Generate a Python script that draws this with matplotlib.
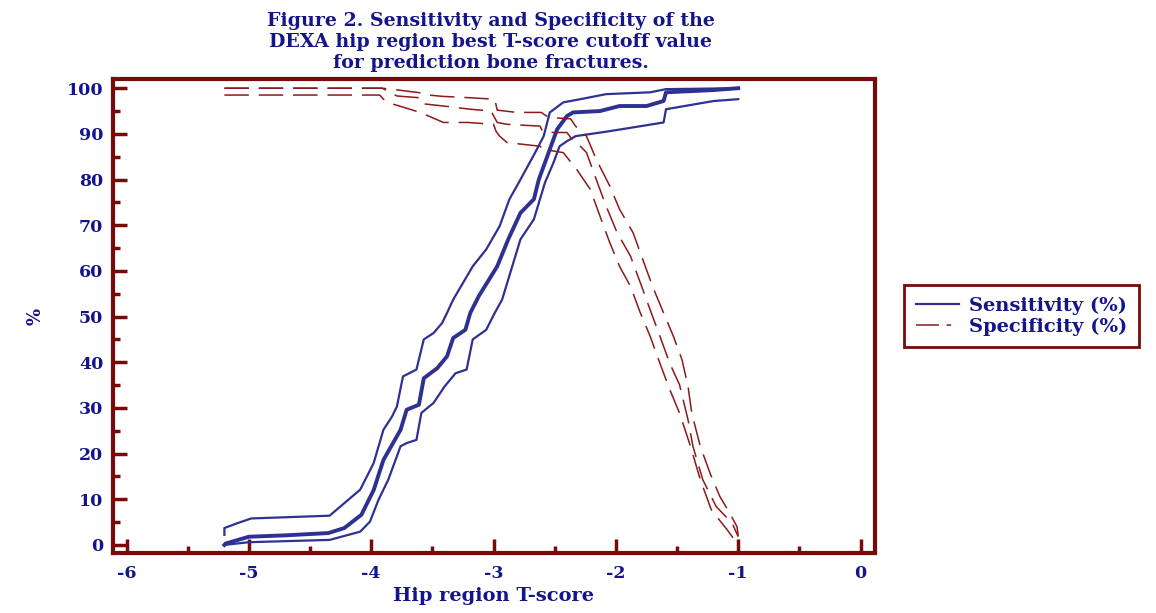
import numpy as np
import matplotlib
matplotlib.use('Agg')
from matplotlib import pyplot as plt
from matplotlib.ticker import MultipleLocator

# Sensitivity (%) - estimate with lower / upper bounds
sens_x = [-5.2, -5.19, -5.0, -4.7, -4.35, -4.22, -4.08, -3.98, -3.90, -3.86, -3.76, -3.71,
          -3.61, -3.57, -3.46, -3.38, -3.33, -3.23, -3.19, -3.12, -2.97, -2.88, -2.78, -2.67,
          -2.63, -2.57, -2.52, -2.48, -2.40, -2.35, -2.13, -1.97, -1.75, -1.61, -1.59, -1.20, -1.0]
sens_y = [0, 0.3, 1.8, 2.1, 2.6, 3.7, 6.6, 12, 18.6, 20.5, 25.2, 29.6,
          30.7, 36.5, 38.7, 41.3, 45.3, 47.1, 50.8, 54.5, 61, 66.9, 72.7, 75.7,
          80, 84.4, 88.1, 91, 93.9, 94.7, 95, 96.1, 96.1, 97.2, 99.1, 99.6, 100]

sens_hi_x = [-5.2, -5.2, -5.09, -4.98, -4.34, -4.09, -3.98, -3.90, -3.83, -3.79, -3.74, -3.63,
             -3.57, -3.49, -3.42, -3.38, -3.33, -3.17, -3.06, -2.95, -2.87, -2.78, -2.66, -2.59,
             -2.54, -2.43, -2.29, -2.08, -1.72, -1.59, -1.0]
sens_hi_y = [2.2, 3.7, 4.8, 5.8, 6.4, 12.1, 17.9, 25.2, 28.1, 30.3, 36.9, 38.4,
             45, 46.4, 48.6, 50.8, 53.7, 61, 64.7, 69.8, 75.7, 80, 85.9, 89.5,
             94.7, 96.9, 97.6, 98.7, 99.1, 99.8, 100]

sens_lo_x = [-5.2, -5.0, -4.34, -4.09, -4.01, -3.94, -3.86, -3.76, -3.71, -3.63, -3.59, -3.49,
             -3.40, -3.31, -3.22, -3.17, -3.06, -2.99, -2.93, -2.78, -2.67, -2.58, -2.51, -2.46,
             -2.40, -2.33, -2.05, -1.61, -1.59, -1.20, -1.0]
sens_lo_y = [0, 0.6, 1.1, 2.9, 5.1, 9.9, 14.3, 21.6, 22.3, 23, 28.9, 31.1,
             34.7, 37.6, 38.4, 45, 47.1, 50.8, 53.7, 66.9, 71.3, 79.3, 83.7, 87.3,
             88.4, 89.5, 90.6, 92.5, 95.4, 97.2, 97.6]

# Specificity (%) - estimate with lower / upper bounds
spec_x = [-5.2, -3.91, -3.79, -3.60, -3.58, -3.41, -3.19, -3.02, -2.97, -2.89, -2.76, -2.62,
          -2.60, -2.51, -2.40, -2.37, -2.33, -2.24, -2.16, -2.08, -1.99, -1.88, -1.80, -1.72,
          -1.64, -1.56, -1.48, -1.41, -1.37, -1.29, -1.18, -1.05, -1.0]
spec_y = [100, 100, 98.3, 97.9, 96.6, 96.1, 95.4, 95.0, 92.5, 92.1, 91.9, 91.7,
          90.6, 90.3, 90.3, 89.2, 88.4, 85.9, 80, 74.2, 68.4, 63.2, 57.4, 51.5,
          45.7, 39.8, 35.1, 27.4, 21.6, 14.3, 8.4, 4.8, 1.8]

spec_hi_x = [-5.2, -3.91, -3.78, -3.60, -3.53, -3.41, -3.25, -3.06, -2.99, -2.97, -2.81, -2.61,
             -2.55, -2.37, -2.33, -2.24, -2.16, -2.05, -1.97, -1.86, -1.78, -1.70, -1.61, -1.53,
             -1.46, -1.41, -1.38, -1.31, -1.23, -1.15, -1.07, -1.01, -1.0]
spec_hi_y = [100, 100, 99.6, 99.0, 98.5, 98.2, 98.0, 97.7, 97.6, 95.2, 94.7, 94.7,
             93.6, 93.3, 91.7, 89.5, 84.4, 78.6, 73.5, 68.4, 62.5, 56.6, 50.8, 45.7,
             40.6, 34.7, 28.9, 21.6, 15.7, 10.6, 7, 4, 2]

spec_lo_x = [-5.2, -3.93, -3.90, -3.82, -3.66, -3.60, -3.47, -3.41, -3.21, -3.00, -2.98, -2.95,
             -2.89, -2.62, -2.59, -2.43, -2.32, -2.21, -2.13, -2.05, -1.97, -1.88, -1.80, -1.72,
             -1.64, -1.57, -1.48, -1.39, -1.31, -1.22, -1.09, -1.01]
spec_lo_y = [98.5, 98.5, 97.6, 96.5, 95.2, 94.7, 93.2, 92.5, 92.5, 92.1, 90.6, 89.5,
             88.1, 87.3, 86.6, 85.9, 82.2, 77.9, 72, 66.2, 61, 56.6, 50.8, 45.7,
             39.8, 34.7, 28.9, 21.6, 14.3, 7.7, 3.3, 0.4]

blue = '#2e3192'
red = '#8b1a1a'
axcol = '#780a0a'
txtcol = '#14148c'

plt.rcParams['font.family'] = 'DejaVu Serif'
plt.rcParams['font.weight'] = 'bold'
plt.rcParams['axes.unicode_minus'] = False

fig = plt.figure(figsize=(11.56, 6.13), dpi=100)
ax = fig.add_axes([0.0978, 0.098, 0.659, 0.773])

dash = (0, (16, 6.5))
ax.plot(sens_hi_x, sens_hi_y, '-', c=blue, lw=1.6)
ax.plot(sens_lo_x, sens_lo_y, '-', c=blue, lw=1.6)
ax.plot(sens_x, sens_y, '-', c=blue, lw=2.8)
ax.plot(spec_hi_x, spec_hi_y, ls=dash, c=red, lw=1.1)
ax.plot(spec_lo_x, spec_lo_y, ls=dash, c=red, lw=1.1)
ax.plot(spec_x, spec_y, ls=dash, c=red, lw=1.1)

# legend proxies
h1, = ax.plot([], [], '-', c=blue, lw=1.6, label='Sensitivity (%)')
h2, = ax.plot([], [], ls=(0, (15, 5, 3, 30)), c=red, lw=1.1, label='Specificity (%)')

ax.set_xlim(-6.11, 0.117)
ax.set_ylim(-1.75, 102)

for s in ax.spines.values():
    s.set_color(axcol)
    s.set_linewidth(3)

ax.xaxis.set_major_locator(MultipleLocator(1))
ax.xaxis.set_minor_locator(MultipleLocator(0.5))
ax.yaxis.set_major_locator(MultipleLocator(10))
ax.yaxis.set_minor_locator(MultipleLocator(5))
ax.tick_params(which='both', direction='in', color=axcol, width=2.5, top=False, right=False)
ax.tick_params(which='major', length=10)
ax.tick_params(which='minor', length=5)
ax.tick_params(axis='x', which='major', pad=9, labelsize=12.5, labelcolor=txtcol)
ax.tick_params(axis='y', which='major', pad=7, labelsize=12.5, labelcolor=txtcol)
for lab in ax.get_xticklabels() + ax.get_yticklabels():
    lab.set_fontweight('bold')

ax.set_xlabel('Hip region T-score', color=txtcol, fontsize=14, fontweight='bold')
ax.xaxis.set_label_coords(0.5, -0.072)
ax.set_ylabel('%', color=txtcol, fontsize=13, fontweight='bold')
ax.yaxis.set_label_coords(-0.09, 0.5)

fig.text(0.4245, 0.98, 'Figure 2. Sensitivity and Specificity of the\n'
         'DEXA hip region best T-score cutoff value\n'
         'for prediction bone fractures.',
         ha='center', va='top', color=txtcol, fontsize=13.7, fontweight='bold', linespacing=1.2)

leg = ax.legend(handles=[h1, h2], loc='center left', bbox_to_anchor=(0.774, 0.4845),
                bbox_transform=fig.transFigure, fancybox=False, framealpha=1,
                edgecolor=axcol, handlelength=2.2, handletextpad=0.5,
                borderpad=0.6, labelspacing=0.15,
                prop={'family': 'DejaVu Serif', 'weight': 'bold', 'size': 14})
leg.get_frame().set_linewidth(2)
for t in leg.get_texts():
    t.set_color(txtcol)

fig.savefig('out.png', dpi=100)
